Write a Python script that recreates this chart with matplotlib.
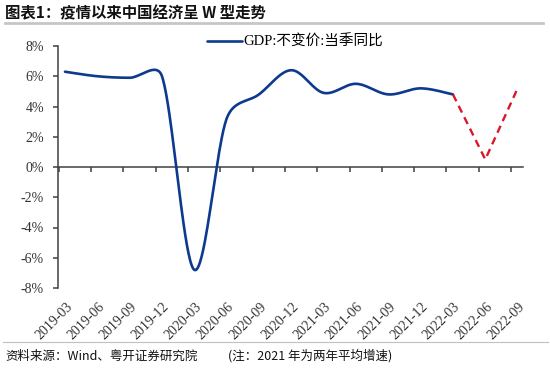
import numpy as np
import matplotlib
matplotlib.use("Agg")
import matplotlib.pyplot as plt
import matplotlib.transforms as mtransforms

# ---- data ----
quarters = ["2019-03", "2019-06", "2019-09", "2019-12", "2020-03", "2020-06",
            "2020-09", "2020-12", "2021-03", "2021-06", "2021-09", "2021-12",
            "2022-03", "2022-06", "2022-09"]
gdp_actual = [6.3, 6.0, 5.9, 6.0, -6.8, 3.2, 4.8, 6.4, 4.9, 5.5, 4.8, 5.2, 4.8]
gdp_forecast = [4.8, 0.5, 5.2]          # 2022-03 .. 2022-09
yticks = [-8, -6, -4, -2, 0, 2, 4, 6, 8]

title = "图表1：疫情以来中国经济呈 W 型走势"
legend_label = "GDP:不变价:当季同比"
source = "资料来源：Wind、粤开证券研究院"
note = "(注：2021 年为两年平均增速)"

# month index positions
xq = np.arange(len(quarters)) * 3.0

# pixel scales used only for the smoothing geometry
SX, SY = 10.77, 15.1


def smooth(x, y, n=40, f=1 / 6, cap=0.5):
    """Excel-like smoothed line: Bezier, tangent (P[i+1]-P[i-1])*f, capped by segment length."""
    P = np.column_stack([np.asarray(x, float) * SX, np.asarray(y, float) * SY])
    m = len(P)
    out = []
    t = np.linspace(0, 1, n)[:, None]

    def ctrl(v, seglen):
        L = np.linalg.norm(v)
        if L > cap * seglen and L > 0:
            v = v * cap * seglen / L
        return v

    for i in range(m - 1):
        p1, p2 = P[i], P[i + 1]
        d12 = np.linalg.norm(p2 - p1)
        v1 = (p2 - P[i - 1]) * f if i > 0 else (p2 - p1) * f
        v2 = (P[i + 2] - p1) * f if i + 2 < m else (p2 - p1) * f
        c1 = p1 + ctrl(v1, d12)
        c2 = p2 - ctrl(v2, d12)
        seg = ((1 - t) ** 3) * p1 + 3 * ((1 - t) ** 2) * t * c1 + 3 * (1 - t) * t ** 2 * c2 + t ** 3 * p2
        out.append(seg if i == 0 else seg[1:])
    s = np.vstack(out)
    return s[:, 0] / SX, s[:, 1] / SY


serif = ["Liberation Serif", "Noto Sans CJK SC"]
cjk = ["Noto Sans CJK SC", "DejaVu Sans"]

fig = plt.figure(figsize=(5.5, 3.69), dpi=100)
ax = fig.add_axes([58 / 550, 1 - 288 / 369, (523 - 58) / 550, (288 - 46) / 369])

blue = "#0d3a8e"
red = "#d7182a"
sx, sy = smooth(xq[:len(gdp_actual)], gdp_actual)
ax.plot(sx, sy, color=blue, lw=1.9, solid_capstyle="round", label=legend_label, zorder=3)
xf = xq[len(gdp_actual) - 1:len(gdp_actual) - 1 + len(gdp_forecast)]
ax.plot(xf, gdp_forecast, color=red, lw=1.7, dashes=(3.2, 2.2), zorder=3)

ax.set_xlim(-0.65, 42.5)
ax.set_ylim(-8, 8)

# spines
for s in ["top", "right"]:
    ax.spines[s].set_visible(False)
ax.spines["bottom"].set_position(("data", 0))
spc = "#404040"
ax.spines["bottom"].set_color(spc)
ax.spines["left"].set_color(spc)
ax.spines["bottom"].set_linewidth(1.1)
ax.spines["left"].set_linewidth(1.1)

ax.set_yticks(yticks)
ax.set_yticklabels([f"{v}%" for v in yticks], fontfamily=serif, fontsize=10, color="#333333")
ax.tick_params(axis="y", direction="out", length=3.6, width=1.1, color=spc, pad=6.5)

tick_pos = xq - 0.6
ax.set_xticks(tick_pos)
ax.set_xticklabels([""] * len(tick_pos))
ax.tick_params(axis="x", direction="out", length=3.6, width=1.1, color=spc)

trans = ax.get_xaxis_transform() + mtransforms.ScaledTranslation(7 / 100, 0, fig.dpi_scale_trans)
for p, lab in zip(tick_pos, quarters):
    ax.text(p, -0.05, lab, transform=trans, rotation=45, ha="right", va="top",
            rotation_mode="anchor", fontfamily=serif, fontsize=10, color="#333333")

leg = ax.legend(loc="center", bbox_to_anchor=(295 / 550, 1 - 42 / 369),
                bbox_transform=fig.transFigure, frameon=False,
                prop={"family": serif, "size": 10.5}, handlelength=2.4, handletextpad=0.05)

# title & footer
fig.text(5 / 550, 1 - 13 / 369, title, fontfamily=cjk, fontsize=11.1, fontweight="bold",
         ha="left", va="center", color="#111111")
fig.add_artist(plt.Line2D([5 / 550, 543 / 550], [1 - 23 / 369, 1 - 23 / 369],
                          transform=fig.transFigure, color="#c6c6c6", lw=2.0))
fig.add_artist(plt.Line2D([3 / 550, 548 / 550], [1 - 342 / 369, 1 - 342 / 369],
                          transform=fig.transFigure, color="#c0c0c0", lw=0.8))
fig.text(5 / 550, 1 - 356 / 369, source, fontfamily=cjk, fontsize=9, style="italic",
         ha="left", va="center", color="#111111")
fig.text(228 / 550, 1 - 356 / 369, note, fontfamily=cjk, fontsize=9, style="italic",
         ha="left", va="center", color="#111111")

fig.savefig("out.png", dpi=100)
